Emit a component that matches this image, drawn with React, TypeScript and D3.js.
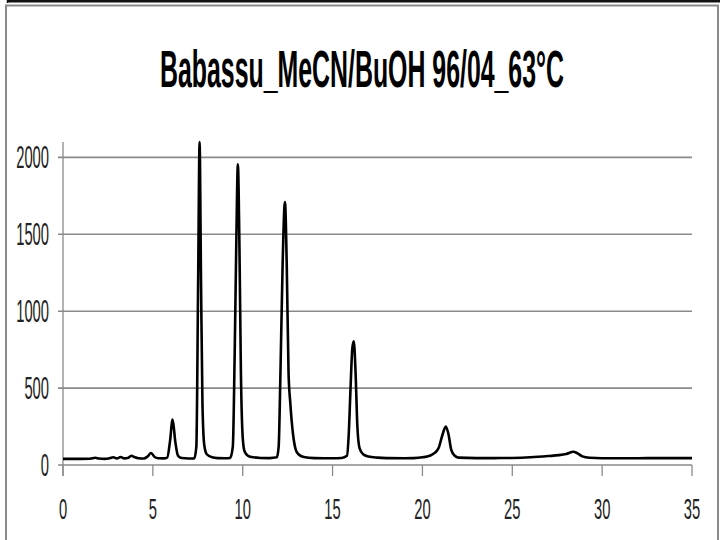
import React from "react";
import * as d3 from "d3";

const TITLE = "Babassu_MeCN/BuOH 96/04_63°C";
const X_TICKS = [0, 5, 10, 15, 20, 25, 30, 35];
const Y_TICKS = [0, 500, 1000, 1500, 2000];

// retention time (min)
const TIMES = [
  0.0, 0.5, 1.0, 1.5, 1.8, 2.0, 2.3, 2.6, 2.8, 3.0, 3.2, 3.4, 3.6, 3.8, 4.0, 4.2, 4.5, 4.7, 4.9, 5.1,
  5.3, 5.6, 5.8, 5.95, 6.1, 6.25, 6.4, 6.6, 7.0, 7.3, 7.42, 7.52, 7.6, 7.68, 7.76, 7.86, 8.0, 8.3, 8.6, 9.0,
  9.3, 9.45, 9.55, 9.65, 9.73, 9.82, 9.9, 10.0, 10.1, 10.3, 10.6, 11.0, 11.5, 11.9, 12.0, 12.1, 12.22, 12.35, 12.45, 12.55,
  12.65, 12.8, 12.95, 13.1, 13.4, 14.0, 14.5, 15.0, 15.5, 15.8, 15.9, 16.0, 16.1, 16.18, 16.28, 16.38, 16.5, 16.7, 17.0, 17.5,
  18.0, 19.0, 19.5, 20.0, 20.4, 20.7, 20.9, 21.1, 21.3, 21.45, 21.6, 21.8, 22.0, 23.0, 24.0, 25.0, 26.0, 27.0, 27.6, 28.0,
  28.4, 28.6, 28.9, 29.3, 30.0, 31.0, 32.0, 33.0, 34.0, 35.0,
];
// detector signal
const SIGNAL = [
  40, 40, 40, 41, 47, 42, 40, 44, 50, 42, 52, 43, 45, 60, 50, 44, 42, 55, 78, 52,
  44, 43, 48, 150, 295, 150, 60, 45, 42, 42, 120, 1200, 2100, 1200, 400, 130, 70, 50, 45, 44,
  46, 120, 700, 1500, 1955, 1400, 600, 180, 90, 60, 50, 46, 45, 50, 120, 600, 1300, 1710, 1300, 600,
  400, 200, 100, 70, 52, 45, 44, 44, 46, 60, 200, 500, 760, 805, 600, 250, 110, 70, 55, 48,
  45, 44, 45, 50, 60, 80, 110, 190, 250, 200, 100, 60, 48, 45, 45, 46, 50, 58, 64, 72,
  86, 78, 56, 47, 44, 44, 44, 45, 45, 45,
];

const W = 720;
const H = 540;
const X0 = 63;
const X1 = 692;
const Y0 = 465;
const YTOP = 142;

const FONT = "'Liberation Sans', Arial, sans-serif";

function measure(text: string, size: number, weight: string): number {
  if (typeof document === "undefined") return text.length * size * 0.55;
  const c = document.createElement("canvas").getContext("2d");
  if (!c) return text.length * size * 0.55;
  c.font = `${weight} ${size}px ${FONT}`;
  return c.measureText(text).width;
}

type STextProps = {
  text: string;
  x: number;
  y: number;
  size: number;
  width: number;
  anchor: "start" | "middle" | "end";
  weight?: string;
  fill?: string;
};

function SText({ text, x, y, size, width, anchor, weight = "normal", fill = "#222" }: STextProps) {
  const natural = measure(text, size, weight);
  const sx = width / natural;
  return (
    <text
      transform={`translate(${x},${y}) scale(${sx},1)`}
      textAnchor={anchor}
      fontFamily={FONT}
      fontWeight={weight}
      fontSize={size}
      fill={fill}
    >
      {text}
    </text>
  );
}

export default function App() {
  const x = d3.scaleLinear().domain([0, 35]).range([X0, X1]);
  const y = d3.scaleLinear().domain([0, 2100]).range([Y0, YTOP]);
  const data = TIMES.map((t, i) => [t, SIGNAL[i]] as [number, number]);
  const line = d3
    .line<[number, number]>()
    .x((d) => x(d[0]))
    .y((d) => y(d[1]))
    .curve(d3.curveMonotoneX);

  const grid = "#8a8a8a";
  const digitW = 8.2;

  return (
    <svg
      width={W}
      height={H}
      style={{ position: "absolute", left: 0, top: 0, background: "#fff" }}
    >
      <rect x={0} y={0} width={W} height={H} fill="#fff" />
      {/* top frame remnant */}
      <line x1={7} x2={W} y1={1.2} y2={1.2} stroke="#111" strokeWidth={2.4} />
      <line x1={7.5} x2={7.5} y1={0} y2={3} stroke="#111" strokeWidth={1.5} />
      {/* chart frame */}
      <rect x={6} y={5.5} width={712} height={H + 10} fill="none" stroke="#8a8a8a" strokeWidth={2} />

      <SText text={TITLE} x={362} y={87} size={52} width={404} anchor="middle" weight="bold" fill="#000" />

      {/* gridlines */}
      {Y_TICKS.filter((v) => v > 0).map((v) => (
        <line key={"g" + v} x1={X0 - 5} x2={X1} y1={y(v)} y2={y(v)} stroke={grid} strokeWidth={1.6} />
      ))}
      {/* axes */}
      <line x1={X0 - 5} x2={X1} y1={Y0} y2={Y0} stroke={grid} strokeWidth={1.6} />
      <line x1={X0} x2={X0} y1={YTOP} y2={Y0 + 11} stroke={grid} strokeWidth={1.3} />
      {X_TICKS.map((v) => (
        <line key={"t" + v} x1={x(v)} x2={x(v)} y1={Y0} y2={Y0 + 11} stroke={grid} strokeWidth={1.3} />
      ))}

      {Y_TICKS.map((v) => (
        <SText
          key={"yl" + v}
          text={String(v)}
          x={49}
          y={y(v) + 11}
          size={31}
          width={String(v).length * digitW}
          anchor="end"
        />
      ))}
      {X_TICKS.map((v) => (
        <SText
          key={"xl" + v}
          text={String(v)}
          x={x(v)}
          y={518.5}
          size={29}
          width={String(v).length * digitW}
          anchor="middle"
        />
      ))}

      <path d={line(data) ?? ""} fill="none" stroke="#000" strokeWidth={2.6} strokeLinejoin="round" />
    </svg>
  );
}
